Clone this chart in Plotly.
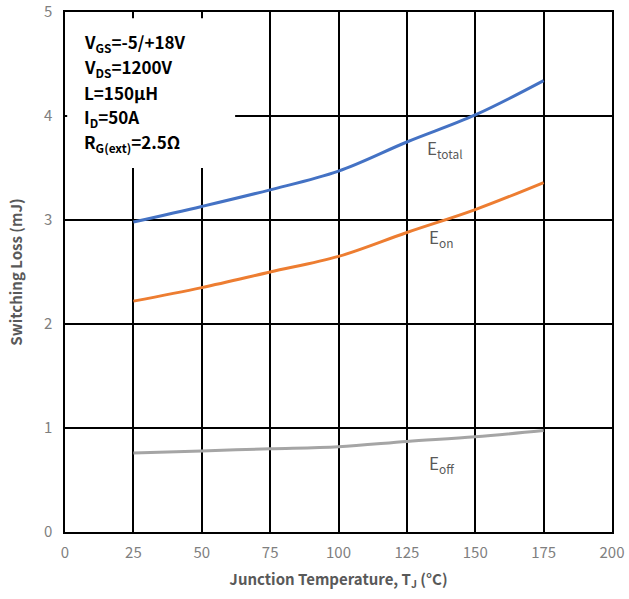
import plotly.graph_objects as go

temps = [25, 50, 75, 100, 125, 150, 175]
e_total = [2.98, 3.13, 3.29, 3.47, 3.75, 4.01, 4.34]
e_on = [2.22, 2.35, 2.50, 2.65, 2.88, 3.10, 3.36]
e_off = [0.76, 0.78, 0.80, 0.82, 0.87, 0.915, 0.975]

x_ticks = [0, 25, 50, 75, 100, 125, 150, 175, 200]
y_ticks = [0, 1, 2, 3, 4, 5]

cond_lines = ["V<sub>GS</sub>=-5/+18V", "V<sub>DS</sub>=1200V", "L=150μH",
              "I<sub>D</sub>=50A", "R<sub>G(ext)</sub>=2.5Ω"]

gray = "#595959"
font_fam = "Noto Sans CJK SC"

fig = go.Figure()
fig.add_trace(go.Scatter(x=temps, y=e_total, mode="lines",
                         line=dict(color="#4472C4", width=3, shape="spline")))
fig.add_trace(go.Scatter(x=temps, y=e_on, mode="lines",
                         line=dict(color="#ED7D31", width=3, shape="spline")))
fig.add_trace(go.Scatter(x=temps, y=e_off, mode="lines",
                         line=dict(color="#A5A5A5", width=3, shape="spline")))

fig.add_shape(type="rect", x0=0.8, x1=62.2, y0=3.5, y1=4.94,
              fillcolor="white", line=dict(width=0), layer="between")

for i, t in enumerate(cond_lines):
    fig.add_annotation(xref="paper", yref="paper", x=(82 - 65) / 547,
                       y=(532 - (42 + i * 25.2)) / 520, text="<b>" + t + "</b>",
                       showarrow=False, xanchor="left", yanchor="middle",
                       font=dict(size=17, color="black", family=font_fam))

labels = [("E<sub>total</sub>", 131.5, 3.69), ("E<sub>on</sub>", 132.5, 2.83),
          ("E<sub>off</sub>", 132.5, 0.66)]
for t, x, y in labels:
    fig.add_annotation(x=x, y=y, text=t, showarrow=False, xanchor="left",
                       yanchor="middle", font=dict(size=17, color=gray, family=font_fam))

fig.update_layout(
    width=629, height=599, margin=dict(l=65, r=17, t=12, b=67, autoexpand=False),
    paper_bgcolor="white", plot_bgcolor="white", showlegend=False,
    font=dict(family=font_fam, color=gray),
)
fig.update_xaxes(range=[0, 200], tickvals=x_ticks, showgrid=True, gridcolor="black",
                 gridwidth=1.5, showline=True, linecolor="black", linewidth=1.5, mirror=True,
                 zeroline=False, ticks="outside", ticklen=6, tickcolor="white",
                 automargin=False, tickfont=dict(size=15, color="#7f7f7f"),
                 title=dict(text="<b>Junction Temperature, T<sub>J</sub> (°C)</b>",
                            font=dict(size=15, color=gray), standoff=14))
fig.update_yaxes(range=[0, 5], tickvals=y_ticks, showgrid=True, gridcolor="black",
                 gridwidth=1.5, showline=True, linecolor="black", linewidth=1.5, mirror=True,
                 zeroline=False, ticks="outside", ticklen=8, tickcolor="white",
                 automargin=False, tickfont=dict(size=15, color="#7f7f7f"),
                 title=dict(text="<b>Switching Loss (mJ)</b>",
                            font=dict(size=15, color=gray), standoff=18))

fig.write_html("out.html", config={"displayModeBar": False},
               post_script="document.body.style.margin='0';document.body.style.overflow='hidden';")
